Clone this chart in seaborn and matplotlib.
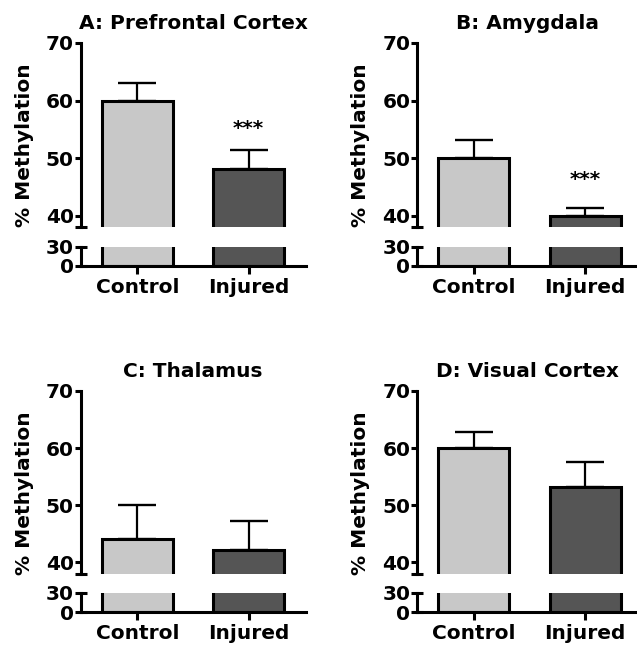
import matplotlib
matplotlib.use("Agg")
import matplotlib.pyplot as plt
import pandas as pd
import seaborn as sns

# ---------------- data ----------------
panel_titles = ["A: Prefrontal Cortex", "B: Amygdala", "C: Thalamus", "D: Visual Cortex"]
groups = ["Control", "Injured"]
means_A = [60.0, 48.1]
sem_A = [3.0, 3.3]
means_B = [50.0, 40.0]
sem_B = [3.1, 1.3]
means_C = [44.0, 42.2]
sem_C = [6.0, 5.0]
means_D = [60.0, 53.1]
sem_D = [2.8, 4.5]
significance = ["***", "***", "", ""]
upper_ticks = [40, 50, 60, 70]
lower_ticks = [0, 30]
ylabel = "% Methylation"

means_all = [means_A, means_B, means_C, means_D]
sems_all = [sem_A, sem_B, sem_C, sem_D]

# ---------------- style ----------------
sns.set_theme(style="ticks")
plt.rcParams["font.family"] = ["DejaVu Sans"]
plt.rcParams["font.weight"] = "bold"
plt.rcParams["axes.titleweight"] = "bold"
plt.rcParams["axes.labelweight"] = "bold"
for k in ["text.color", "axes.labelcolor", "xtick.color", "ytick.color", "axes.edgecolor"]:
    plt.rcParams[k] = "black"

colors = ["#c8c8c8", "#555555"]
LW = 2.2
FS = 14.5

W, H = 637, 647
fig = plt.figure(figsize=(W / 100, H / 100), dpi=100)


def add_px_axes(x0, y_top, y_bot, w):
    return fig.add_axes([x0 / W, 1 - y_bot / H, w / W, (y_bot - y_top) / H])


layout = [
    dict(x=80.5, w=225, up=(43, 227), lo=(247, 266), xr=1.51, ly=0.446, ast=3.8),
    dict(x=417, w=220, up=(43, 227), lo=(247, 266), xr=1.465, ly=0.446, ast=5.0),
    dict(x=80.5, w=225, up=(391, 573.5), lo=(592.7, 612), xr=1.51, ly=0.44, ast=3.8),
    dict(x=417, w=220, up=(391, 573.5), lo=(592.7, 612), xr=1.465, ly=0.44, ast=3.8),
]

for i, L in enumerate(layout):
    means, sems = means_all[i], sems_all[i]
    df = pd.DataFrame({"group": groups, "value": means})
    ax_up = add_px_axes(L["x"], L["up"][0], L["up"][1], L["w"])
    ax_lo = add_px_axes(L["x"], L["lo"][0], L["lo"][1], L["w"])
    for ax in (ax_up, ax_lo):
        sns.barplot(data=df, x="group", y="value", hue="group", palette=colors,
                    legend=False, errorbar=None, width=0.64, edgecolor="black",
                    linewidth=LW, ax=ax)
        ax.set_xlim(-0.51, L["xr"])
        ax.set_xlabel("")
        ax.set_ylabel("")
        for s in ["top", "right"]:
            ax.spines[s].set_visible(False)
        for s in ["left", "bottom"]:
            ax.spines[s].set_linewidth(LW)

    # bar centres from the drawn patches
    patches = sorted(ax_up.patches, key=lambda p: p.get_x())
    centers = [p.get_x() + p.get_width() / 2 for p in patches]

    ax_up.errorbar(centers, means, yerr=[[0, 0], sems], fmt="none", ecolor="black",
                   elinewidth=1.6, capsize=14, capthick=1.7, zorder=4)

    # upper axis
    ax_up.set_ylim(38, 70)
    ax_up.set_yticks(upper_ticks)
    ax_up.set_yticks([38], minor=True)
    ax_up.spines["bottom"].set_visible(False)
    ax_up.tick_params(axis="x", bottom=False, labelbottom=False)
    ax_up.tick_params(axis="y", which="major", direction="out", length=4.3, width=LW,
                      labelsize=FS, pad=0.5)
    ax_up.tick_params(axis="y", which="minor", direction="inout", length=8.6, width=LW)
    ax_up.set_title(panel_titles[i], fontsize=FS, fontweight="bold", pad=10)
    ax_up.set_ylabel(ylabel, fontsize=FS, fontweight="bold")
    ax_up.yaxis.set_label_coords(-46.5 / L["w"], L["ly"])

    if significance[i]:
        ax_up.text(centers[1], means[1] + sems[1] + L["ast"], significance[i],
                   ha="center", va="center", fontsize=FS, fontweight="bold")

    # lower axis
    ax_lo.set_ylim(0, 30)
    ax_lo.set_yticks(lower_ticks)
    ax_lo.tick_params(axis="y", direction="inout", length=8.6, width=LW,
                      labelsize=FS, pad=0.5)
    ax_lo.set_xticks(centers)
    ax_lo.set_xticklabels(groups)
    ax_lo.tick_params(axis="x", direction="out", length=5.8, width=LW,
                      labelsize=FS, pad=3)

fig.savefig("out.png", dpi=100)
